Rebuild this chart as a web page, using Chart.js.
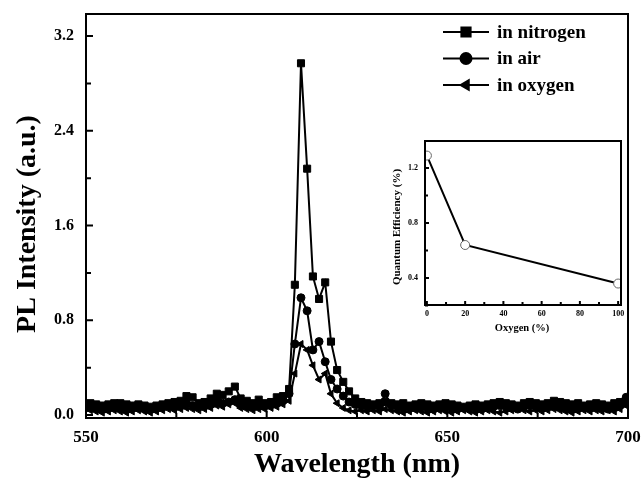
<!DOCTYPE html>
<html>
<head>
<meta charset="utf-8">
<script src="https://cdn.jsdelivr.net/npm/chart.js@4.4.1/dist/chart.umd.min.js"></script>
<style>
  html, body { margin: 0; padding: 0; background: #fff; }
  #wrap { position: relative; width: 641px; height: 479px; }
  #main { position: absolute; left: 0; top: 0; }
  #inset { position: absolute; left: 380px; top: 130px; }
</style>
</head>
<body>
<div id="wrap">
  <canvas id="main" width="641" height="479"></canvas>
  <canvas id="inset" width="250" height="215"></canvas>
</div>
<script>
// PL spectra (nm, a.u.)
const wavelengths = [
  549.5, 551.2, 552.8, 554.5, 556.2, 557.8, 559.5, 561.2, 562.8, 564.5,
  566.2, 567.8, 569.5, 571.2, 572.8, 574.5, 576.2, 577.8, 579.5, 581.2,
  582.8, 584.5, 586.2, 587.8, 589.5, 591.2, 592.8, 594.5, 596.2, 597.8,
  599.5, 601.2, 602.8, 604.5,
  606.2, 607.8, 609.5, 611.2, 612.8, 614.5, 616.2, 617.8, 619.5, 621.2, 622.8, 624.5,
  626.2, 627.8, 629.5, 631.2, 632.8, 634.5, 636.2, 637.8, 639.5, 641.2,
  642.8, 644.5, 646.2, 647.8, 649.5, 651.2, 652.8, 654.5, 656.2, 657.8,
  659.5, 661.2, 662.8, 664.5, 666.2, 667.8, 669.5, 671.2, 672.8, 674.5,
  676.2, 677.8, 679.5, 681.2, 682.8, 684.5, 686.2, 687.8, 689.5, 691.2,
  692.8, 694.5, 696.2, 697.8, 699.5, 701.2
];
const nitrogen = [
  0.09, 0.10, 0.09, 0.08, 0.09, 0.10, 0.10, 0.09, 0.08, 0.09,
  0.08, 0.07, 0.08, 0.09, 0.10, 0.11, 0.12, 0.16, 0.15, 0.10,
  0.11, 0.14, 0.18, 0.17, 0.20, 0.24, 0.14, 0.12, 0.10, 0.13,
  0.10, 0.11, 0.15, 0.16,
  0.22, 1.10, 2.97, 2.08, 1.17, 0.98, 1.12, 0.62, 0.38, 0.28, 0.20, 0.14,
  0.11, 0.10, 0.09, 0.10, 0.11, 0.10, 0.09, 0.10, 0.08, 0.09,
  0.10, 0.09, 0.08, 0.09, 0.10, 0.09, 0.08, 0.07, 0.08, 0.09,
  0.08, 0.09, 0.10, 0.11, 0.10, 0.09, 0.08, 0.10, 0.11, 0.10,
  0.09, 0.10, 0.12, 0.11, 0.10, 0.09, 0.10, 0.08, 0.09, 0.10,
  0.09, 0.08, 0.10, 0.11, 0.12, 0.10
];
const air = [
  0.06, 0.07, 0.06, 0.05, 0.06, 0.07, 0.06, 0.05, 0.06, 0.07,
  0.06, 0.05, 0.06, 0.07, 0.08, 0.07, 0.08, 0.10, 0.08, 0.07,
  0.08, 0.09, 0.12, 0.10, 0.11, 0.13, 0.09, 0.08, 0.07, 0.09,
  0.08, 0.09, 0.10, 0.12,
  0.18, 0.60, 0.99, 0.88, 0.55, 0.62, 0.45, 0.30, 0.22, 0.16, 0.11, 0.09,
  0.08, 0.07, 0.08, 0.07, 0.18, 0.08, 0.07, 0.06, 0.07, 0.06,
  0.07, 0.06, 0.05, 0.06, 0.07, 0.06, 0.05, 0.06, 0.07, 0.06,
  0.05, 0.06, 0.07, 0.08, 0.07, 0.06, 0.05, 0.07, 0.08, 0.07,
  0.06, 0.07, 0.08, 0.07, 0.06, 0.05, 0.06, 0.07, 0.06, 0.07,
  0.06, 0.05, 0.07, 0.08, 0.15, 0.12
];
const oxygen = [
  0.03, 0.04, 0.03, 0.02, 0.03, 0.04, 0.03, 0.02, 0.03, 0.04,
  0.03, 0.02, 0.03, 0.04, 0.05, 0.04, 0.05, 0.06, 0.05, 0.04,
  0.05, 0.06, 0.08, 0.07, 0.09, 0.10, 0.06, 0.05, 0.04, 0.05,
  0.05, 0.06, 0.07, 0.09,
  0.12, 0.35, 0.60, 0.55, 0.42, 0.30, 0.35, 0.18, 0.10, 0.06, 0.04, 0.03,
  0.04, 0.03, 0.04, 0.03, 0.05, 0.04, 0.03, 0.02, 0.03, 0.04,
  0.03, 0.02, 0.03, 0.04, 0.03, 0.02, 0.03, 0.04, 0.03, 0.02,
  0.03, 0.04, 0.03, 0.02, 0.03, 0.04, 0.05, 0.04, 0.03, 0.04,
  0.03, 0.04, 0.05, 0.04, 0.03, 0.02, 0.03, 0.04, 0.03, 0.04,
  0.03, 0.04, 0.03, 0.05, 0.08, 0.06
];
const xTicks = [550, 600, 650, 700];
const xMinor = [575, 625, 675];
const yTicks = [0, 0.8, 1.6, 2.4, 3.2];
const yMinor = [0.4, 1.2, 2.0, 2.8];
const seriesNames = ["in nitrogen", "in air", "in oxygen"];

// inset: quantum efficiency vs oxygen content
const oxygenPct = [0, 20, 100];
const quantumEff = [1.29, 0.64, 0.36];
const insetXTicks = [0, 20, 40, 60, 80, 100];
const insetXMinor = [10, 30, 50, 70, 90];
const insetYTicks = [0.4, 0.8, 1.2];
const insetYMinor = [0.2, 0.6, 1.0];

const serif = "'Liberation Serif', 'Times New Roman', serif";

function toPoints(xs, ys) {
  return xs.map((x, i) => ({ x: x, y: ys[i] }));
}

// keep the plot area where the layout padding puts it
function fixSize(prop, size) {
  return s => {
    s[prop] = size;
    s.paddingTop = 0; s.paddingBottom = 0; s.paddingLeft = 0; s.paddingRight = 0;
  };
}

// frame, inward ticks and axis titles
const framePlugin = {
  id: "frame",
  afterDraw(chart, args, opts) {
    const { ctx, chartArea: a } = chart;
    const xs = chart.scales.x, ys = chart.scales.y;
    ctx.save();
    ctx.strokeStyle = "#000";
    ctx.lineWidth = opts.lw;
    ctx.strokeRect(a.left, a.top, a.right - a.left, a.bottom - a.top);
    ctx.beginPath();
    opts.xMajor.forEach(v => {
      const p = xs.getPixelForValue(v);
      ctx.moveTo(p, a.bottom); ctx.lineTo(p, a.bottom - opts.len);
    });
    opts.xMinor.forEach(v => {
      const p = xs.getPixelForValue(v);
      ctx.moveTo(p, a.bottom); ctx.lineTo(p, a.bottom - opts.minorLen);
    });
    opts.yMajor.forEach(v => {
      const p = ys.getPixelForValue(v);
      ctx.moveTo(a.left, p); ctx.lineTo(a.left + opts.len, p);
    });
    opts.yMinor.forEach(v => {
      const p = ys.getPixelForValue(v);
      ctx.moveTo(a.left, p); ctx.lineTo(a.left + opts.minorLen, p);
    });
    ctx.stroke();

    ctx.fillStyle = "#000";
    ctx.textAlign = "center";
    ctx.textBaseline = "middle";
    ctx.font = "bold " + opts.xTitleSize + "px " + serif;
    ctx.fillText(opts.xTitle, opts.xTitlePos[0], opts.xTitlePos[1]);
    ctx.translate(opts.yTitlePos[0], opts.yTitlePos[1]);
    ctx.rotate(-Math.PI / 2);
    ctx.font = "bold " + opts.yTitleSize + "px " + serif;
    ctx.fillText(opts.yTitle, 0, 0);
    ctx.restore();
  }
};

// line + marker legend in the upper right corner
const legendPlugin = {
  id: "markLegend",
  afterDraw(chart) {
    const ctx = chart.ctx;
    ctx.save();
    chart.data.datasets.forEach((ds, i) => {
      const y = 32 + i * 26.5;
      ctx.strokeStyle = "#000";
      ctx.lineWidth = 2;
      ctx.beginPath();
      ctx.moveTo(443, y); ctx.lineTo(489, y);
      ctx.stroke();
      ctx.fillStyle = "#000";
      Chart.helpers.drawPoint(ctx, {
        pointStyle: ds.pointStyle, radius: ds.pointRadius + 1.5, rotation: ds.pointRotation || 0, borderWidth: 1
      }, 466, y);
      ctx.fillStyle = "#000";
      ctx.font = "bold 19px " + serif;
      ctx.textAlign = "left";
      ctx.textBaseline = "middle";
      ctx.fillText(ds.label, 497, y + 1);
    });
    ctx.restore();
  }
};

function seriesStyle(label, values, style, rotation) {
  return {
    label: label,
    data: toPoints(wavelengths, values),
    borderColor: "#000",
    borderWidth: 2,
    backgroundColor: "#000",
    pointStyle: style,
    pointRotation: rotation,
    pointRadius: style === "rect" ? 5 : 4,
    pointBackgroundColor: "#000",
    pointBorderColor: "#000",
    pointBorderWidth: 1,
    tension: 0
  };
}

new Chart(document.getElementById("main"), {
  type: "line",
  data: {
    datasets: [
      seriesStyle(seriesNames[0], nitrogen, "rect", 0),
      seriesStyle(seriesNames[1], air, "circle", 0),
      seriesStyle(seriesNames[2], oxygen, "triangle", -90)
    ]
  },
  options: {
    responsive: false,
    animation: false,
    devicePixelRatio: 1,
    layout: { padding: { top: 14, right: 13, left: 0, bottom: 0 } },
    scales: {
      x: {
        type: "linear", min: 550, max: 700,
        afterFit: fixSize("height", 61),
        afterBuildTicks: s => { s.ticks = xTicks.map(v => ({ value: v })); },
        grid: { display: false, drawTicks: false },
        border: { display: false },
        ticks: { color: "#000", padding: 9, maxRotation: 0, font: { family: serif, size: 17, weight: "bold" } }
      },
      y: {
        type: "linear", min: -0.025, max: 3.386,
        afterFit: fixSize("width", 86),
        afterBuildTicks: s => { s.ticks = yTicks.map(v => ({ value: v })); },
        grid: { display: false, drawTicks: false },
        border: { display: false },
        ticks: {
          color: "#000", padding: 12, font: { family: serif, size: 16, weight: "bold" },
          callback: v => v.toFixed(1)
        }
      }
    },
    plugins: {
      legend: { display: false },
      tooltip: { enabled: false },
      frame: {
        lw: 2, len: 7, minorLen: 5,
        xMajor: xTicks, xMinor: xMinor, yMajor: yTicks, yMinor: yMinor,
        xTitle: "Wavelength (nm)", xTitleSize: 28, xTitlePos: [357, 465],
        yTitle: "PL Intensity (a.u.)", yTitleSize: 28, yTitlePos: [28, 224]
      }
    }
  },
  plugins: [framePlugin, legendPlugin]
});

new Chart(document.getElementById("inset"), {
  type: "line",
  data: {
    datasets: [{
      data: toPoints(oxygenPct, quantumEff),
      borderColor: "#000",
      borderWidth: 2,
      pointStyle: "circle",
      pointRadius: 4.5,
      pointBackgroundColor: "#fff",
      pointBorderColor: "#666",
      pointBorderWidth: 1,
      tension: 0
    }]
  },
  options: {
    responsive: false,
    animation: false,
    devicePixelRatio: 1,
    layout: { padding: { top: 11, right: 9, left: 0, bottom: 0 } },
    scales: {
      x: {
        type: "linear", min: -1, max: 101.5,
        afterFit: fixSize("height", 40),
        afterBuildTicks: s => { s.ticks = insetXTicks.map(v => ({ value: v })); },
        grid: { display: false, drawTicks: false },
        border: { display: false },
        ticks: { color: "#000", padding: 4, maxRotation: 0, font: { family: serif, size: 8, weight: "bold" } }
      },
      y: {
        type: "linear", min: 0.204, max: 1.396,
        afterFit: fixSize("width", 45),
        afterBuildTicks: s => { s.ticks = insetYTicks.map(v => ({ value: v })); },
        grid: { display: false, drawTicks: false },
        border: { display: false },
        ticks: {
          color: "#000", padding: 7, font: { family: serif, size: 8, weight: "bold" },
          callback: v => v.toFixed(1)
        }
      }
    },
    plugins: {
      legend: { display: false },
      tooltip: { enabled: false },
      frame: {
        lw: 2, len: 4, minorLen: 3,
        xMajor: insetXTicks, xMinor: insetXMinor, yMajor: insetYTicks, yMinor: insetYMinor,
        xTitle: "Oxygen (%)", xTitleSize: 10.5, xTitlePos: [142, 198],
        yTitle: "Quantum Efficiency (%)", yTitleSize: 11, yTitlePos: [17, 97]
      }
    }
  },
  plugins: [framePlugin]
});
</script>
</body>
</html>
